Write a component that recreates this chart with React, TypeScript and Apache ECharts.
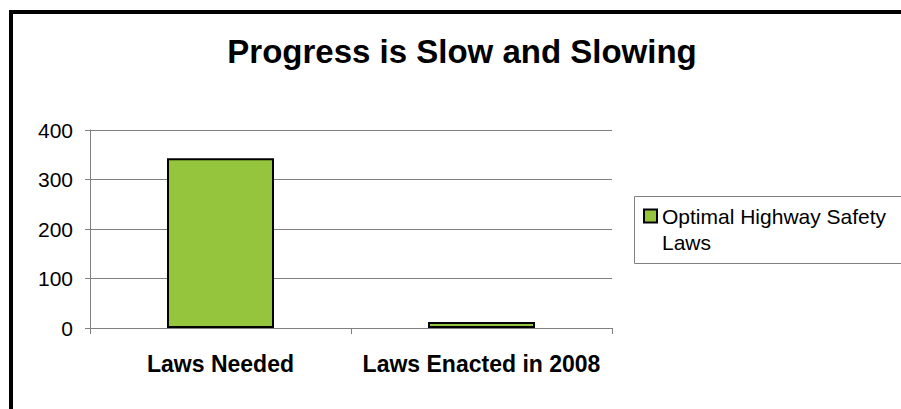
import React, { useEffect, useRef } from "react";
import * as echarts from "echarts";

// Chart content
const titleText = "Progress is Slow and Slowing";
const categories = ["Laws Needed", "Laws Enacted in 2008"];
const seriesName = "Optimal Highway Safety Laws";
const legendLines = ["Optimal Highway Safety", "Laws"];
const lawCounts = [343, 12];
const yMin = 0;
const yMax = 400;
const yStep = 100;

const FONT = "'Liberation Sans', Arial, Helvetica, sans-serif";

export default function App() {
  const ref = useRef<HTMLDivElement>(null);

  useEffect(() => {
    if (!ref.current) return;
    const chart = echarts.init(ref.current, undefined, { renderer: "svg" });
    chart.setOption({
      animation: false,
      backgroundColor: "#ffffff",
      textStyle: { fontFamily: FONT },
      title: {
        text: titleText,
        left: 462,
        top: 35,
        padding: 0,
        textAlign: "center",
        textStyle: {
          fontFamily: FONT,
          fontSize: 33,
          fontWeight: "bold",
          color: "#000000",
        },
      },
      legend: {
        data: [seriesName],
        left: 643,
        top: 177,
        padding: 0,
        orient: "vertical",
        icon: "rect",
        itemWidth: 13,
        itemHeight: 13,
        // blank first line keeps the swatch level with the first text line
        formatter: () => "\n" + legendLines.join("\n"),
        textStyle: {
          fontFamily: FONT,
          fontSize: 21,
          lineHeight: 26,
          color: "#000000",
        },
      },
      grid: {
        left: 90,
        right: 289,
        top: 130,
        bottom: 81,
        containLabel: false,
      },
      xAxis: {
        type: "category",
        data: categories,
        boundaryGap: true,
        axisLine: { show: true, lineStyle: { color: "#808080", width: 1 } },
        axisTick: {
          show: true,
          alignWithLabel: false,
          length: 6,
          lineStyle: { color: "#808080", width: 1 },
        },
        axisLabel: {
          interval: 0,
          margin: 24,
          fontFamily: FONT,
          fontSize: 23,
          fontWeight: "bold",
          color: "#000000",
        },
      },
      yAxis: {
        type: "value",
        min: yMin,
        max: yMax,
        interval: yStep,
        axisLine: { show: true, lineStyle: { color: "#808080", width: 1 } },
        axisTick: { show: true, length: 5, lineStyle: { color: "#808080", width: 1 } },
        splitLine: { show: true, lineStyle: { color: "#808080", width: 1 } },
        axisLabel: {
          margin: 17,
          fontFamily: FONT,
          fontSize: 21,
          color: "#000000",
        },
      },
      series: [
        {
          name: seriesName,
          type: "bar",
          data: lawCounts,
          barWidth: "41%",
          itemStyle: {
            color: "#95C43D",
            borderColor: "#000000",
            borderWidth: 2,
          },
        },
      ],
      graphic: [
        {
          // outer frame, running off the right and bottom edges
          type: "rect",
          silent: true,
          shape: { x: 11, y: 12, width: 1000, height: 1000 },
          style: { fill: "none", stroke: "#000000", lineWidth: 4 },
        },
        {
          // legend box
          type: "rect",
          silent: true,
          shape: { x: 634.5, y: 196.5, width: 400, height: 67 },
          style: { fill: "none", stroke: "#808080", lineWidth: 1 },
        },
      ],
    });
    return () => chart.dispose();
  }, []);

  return (
    <div
      ref={ref}
      style={{ position: "fixed", left: 0, top: 0, width: 901, height: 409 }}
    />
  );
}
